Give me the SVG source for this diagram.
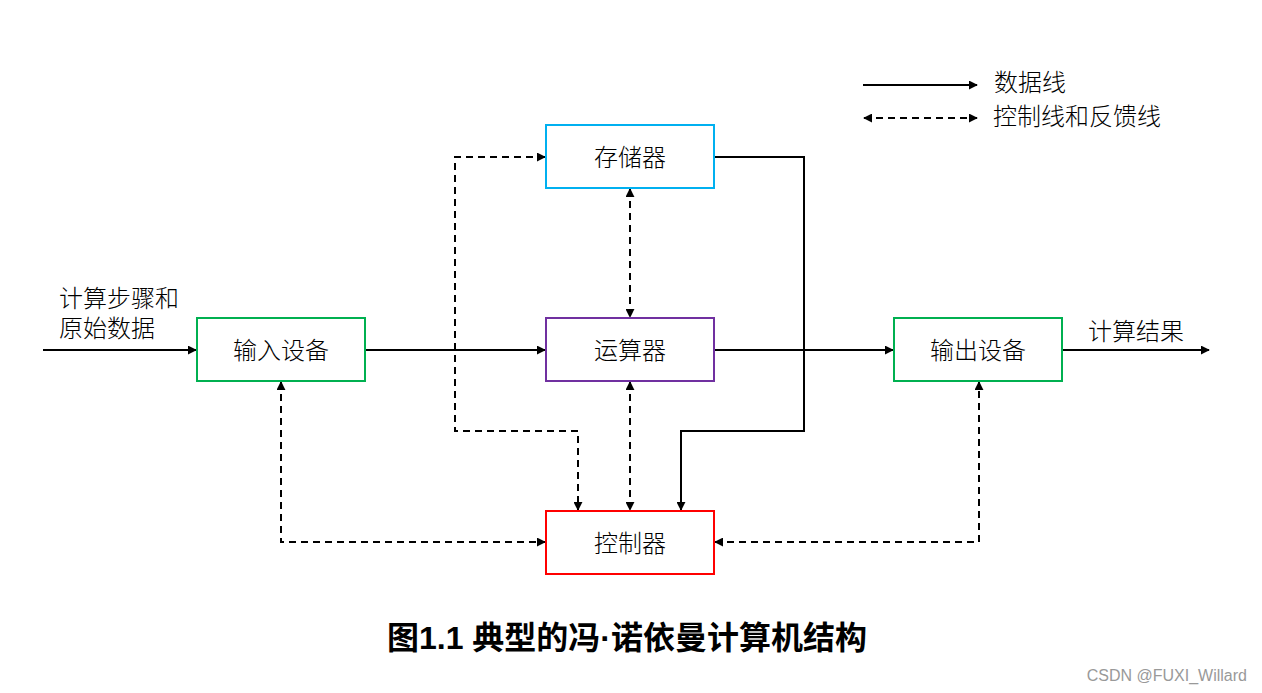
<svg xmlns="http://www.w3.org/2000/svg" width="1262" height="693" viewBox="0 0 1262 693">
<style>
.box{fill:#fff;stroke-width:2}
.lbl{font-family:"Liberation Sans","Noto Sans CJK SC",sans-serif;font-size:24px;font-weight:300;fill:#000;text-anchor:middle;dominant-baseline:central}
.txt{font-family:"Liberation Sans","Noto Sans CJK SC",sans-serif;font-size:24px;font-weight:300;fill:#000;dominant-baseline:central}
.s{fill:none;stroke:#000;stroke-width:2}
.d{fill:none;stroke:#000;stroke-width:2;stroke-dasharray:7 5}
</style>
<defs>
<marker id="ah" viewBox="0 0 10 10" refX="9" refY="5" markerWidth="4.5" markerHeight="4.5" orient="auto-start-reverse" markerUnits="strokeWidth">
<path d="M0,0 L10,5 L0,10 z" fill="#000"/>
</marker>
</defs>
<rect width="1262" height="693" fill="#fff"/>
<g id="connectors">
<line class="s" x1="43" y1="350" x2="196" y2="350" marker-end="url(#ah)"/>
<line class="s" x1="366" y1="350" x2="545" y2="350" marker-end="url(#ah)"/>
<line class="s" x1="715" y1="350" x2="893" y2="350" marker-end="url(#ah)"/>
<line class="s" x1="1063" y1="350" x2="1209" y2="350" marker-end="url(#ah)"/>
<polyline class="s" points="715,157 804,157 804,431 681,431 681,510" marker-end="url(#ah)"/>
<polyline class="d" points="545,157 455,157 455,431 578,431 578,510" marker-start="url(#ah)" marker-end="url(#ah)"/>
<line class="d" x1="630" y1="189" x2="630" y2="317" marker-start="url(#ah)" marker-end="url(#ah)"/>
<line class="d" x1="630" y1="382" x2="630" y2="510" marker-start="url(#ah)" marker-end="url(#ah)"/>
<polyline class="d" points="281,382 281,542 545,542" marker-start="url(#ah)" marker-end="url(#ah)"/>
<polyline class="d" points="715,542 979,542 979,382" marker-start="url(#ah)" marker-end="url(#ah)"/>
</g>
<g id="legend">
<line class="s" x1="863" y1="85" x2="977" y2="85" marker-end="url(#ah)"/>
<line class="d" x1="864" y1="118" x2="977" y2="118" marker-start="url(#ah)" marker-end="url(#ah)"/>
<text class="txt" x="994" y="82">数据线</text>
<text class="txt" x="993" y="116">控制线和反馈线</text>
</g>
<g id="node-memory">
<rect class="box" x="546" y="125" width="168" height="63" stroke="#00B0F0"/>
<text class="lbl" x="630" y="157">存储器</text>
</g>
<g id="node-alu">
<rect class="box" x="546" y="318" width="168" height="63" stroke="#7030A0"/>
<text class="lbl" x="630" y="350">运算器</text>
</g>
<g id="node-input">
<rect class="box" x="197" y="318" width="168" height="63" stroke="#00B050"/>
<text class="lbl" x="281" y="350">输入设备</text>
</g>
<g id="node-output">
<rect class="box" x="894" y="318" width="168" height="63" stroke="#00B050"/>
<text class="lbl" x="978" y="350">输出设备</text>
</g>
<g id="node-control">
<rect class="box" x="546" y="511" width="168" height="63" stroke="#FF0000"/>
<text class="lbl" x="630" y="543">控制器</text>
</g>
<g id="labels">
<text class="txt" x="59" y="298">计算步骤和</text>
<text class="txt" x="59" y="328">原始数据</text>
<text class="txt" x="1088" y="331">计算结果</text>
<text x="627" y="638" text-anchor="middle" dominant-baseline="central" font-family="Liberation Sans,Noto Sans CJK SC,sans-serif" font-size="32" font-weight="bold" fill="#000">图1.1 典型的冯·诺依曼计算机结构</text>
<text x="1247" y="675" text-anchor="end" dominant-baseline="central" font-family="Liberation Sans,sans-serif" font-size="16" fill="#999">CSDN @FUXI_Willard</text>
</g>
</svg>
